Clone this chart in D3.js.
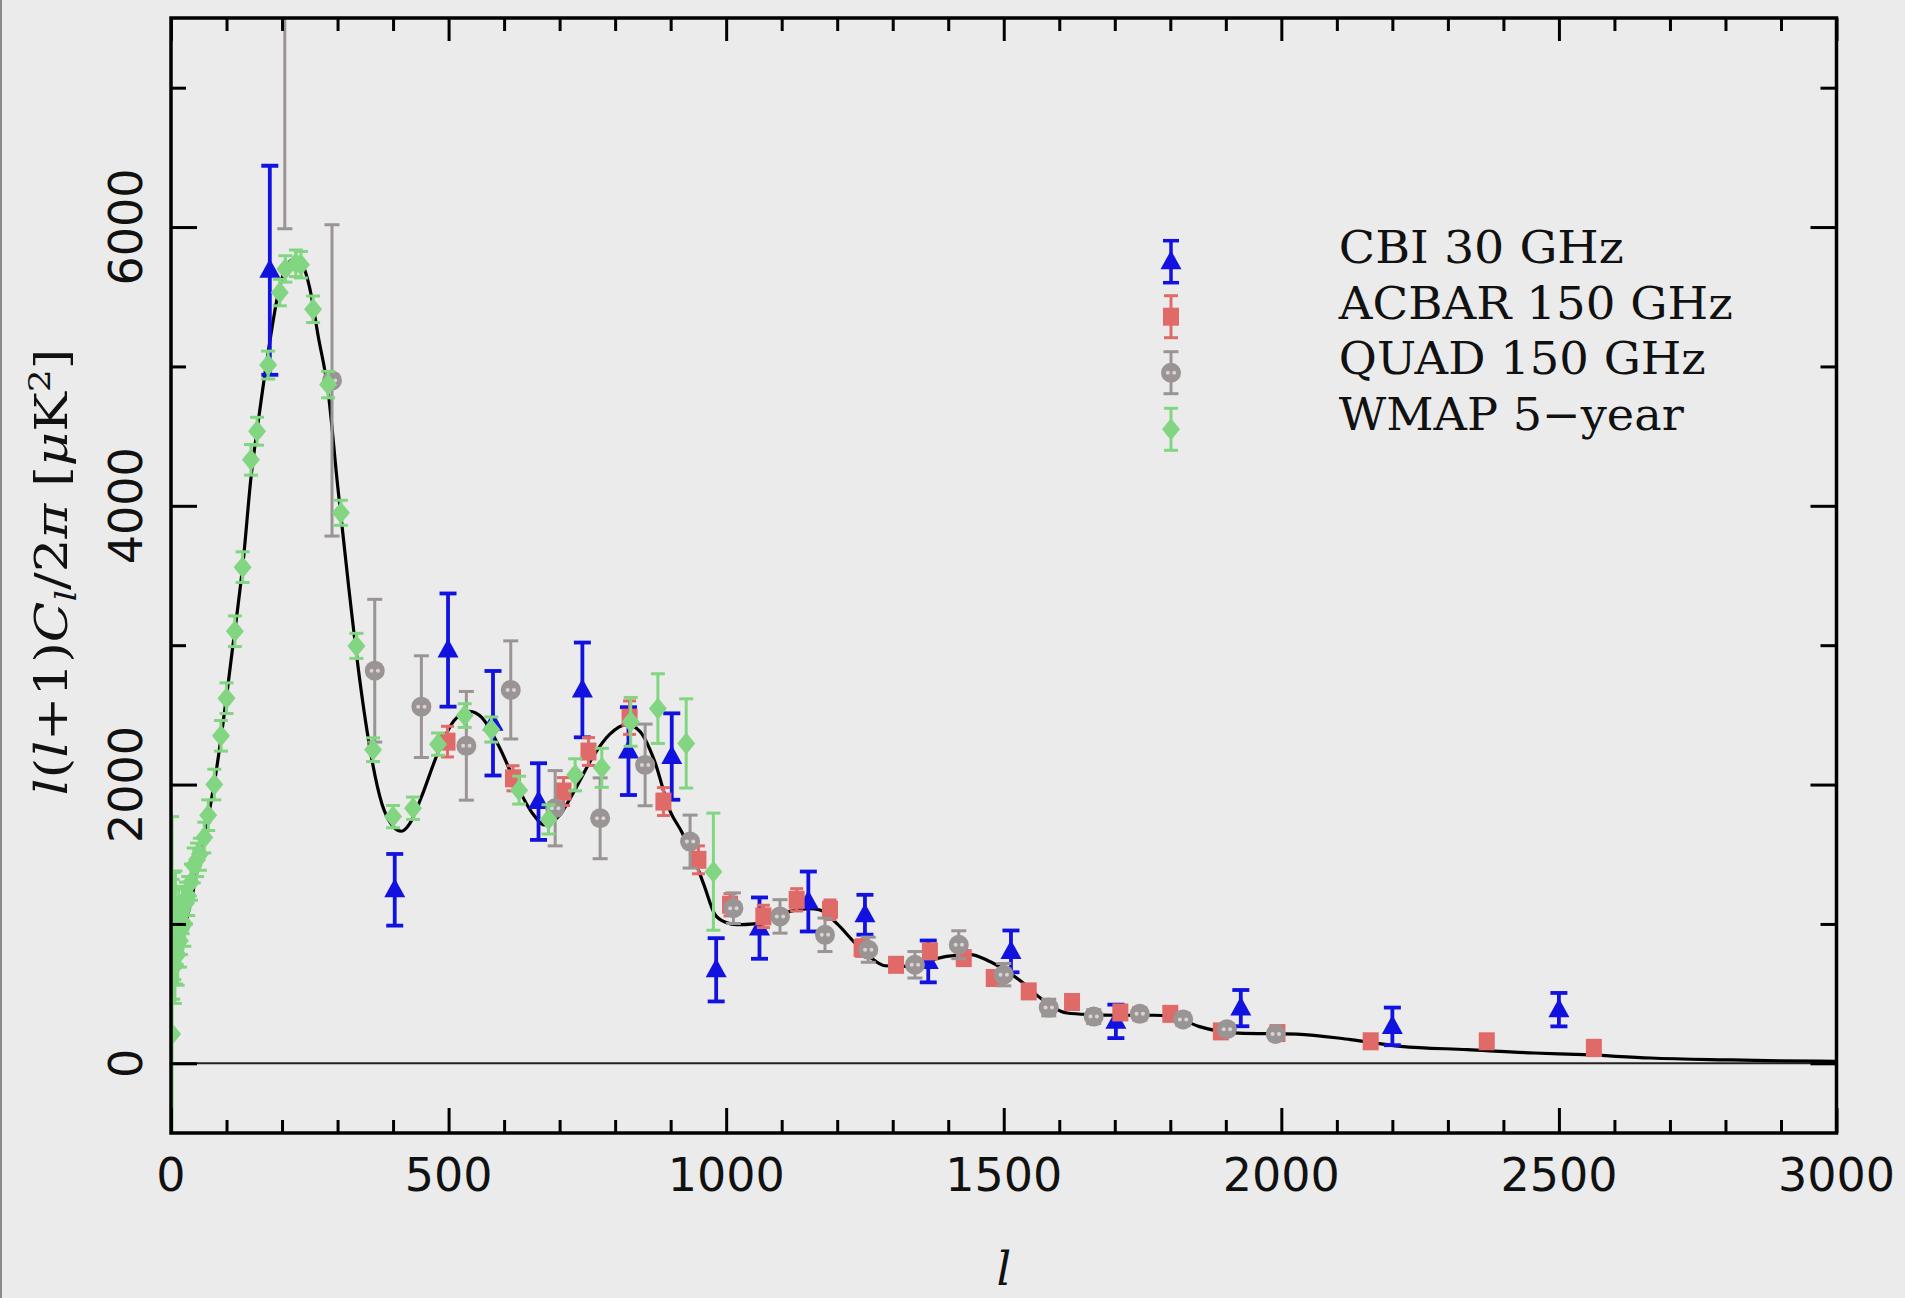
<!DOCTYPE html>
<html>
<head>
<meta charset="utf-8">
<script src="https://cdn.jsdelivr.net/npm/d3@7"></script>
<style>
  html, body { margin: 0; padding: 0; background: #ebebeb; }
  svg { display: block; }
</style>
</head>
<body>
<svg id="chart" width="1905" height="1298"></svg>
<script>
// ---- Best-fit model spectrum (multipole l, D_l in uK^2) ----
const theoryL = [2, 10, 20, 30, 40, 50, 60, 70, 80, 90, 100, 110, 120, 130, 144, 157, 175, 195, 210, 222,
  235, 250, 265, 283, 300, 320, 340, 360, 380, 400, 415, 430, 450, 480, 510, 538, 560, 590, 620, 650,
  674, 700, 730, 760, 790, 821, 845, 870, 899, 920, 941, 960, 980, 1000, 1019, 1050, 1080, 1115, 1150, 1169,
  1200, 1235, 1260, 1286, 1325, 1360, 1397, 1440, 1470, 1506, 1540, 1566, 1614, 1658, 1700, 1770, 1803, 1851, 1923, 2028,
  2125, 2215, 2335, 2455, 2545, 2665, 2800, 2900, 3000];
const theoryD = [1050, 880, 920, 1060, 1240, 1440, 1620, 1830, 2060, 2330, 2630, 2950, 3260, 3600, 4200, 4600, 5100, 5560, 5730, 5770,
  5740, 5560, 5220, 4820, 4150, 3420, 2750, 2220, 1860, 1700, 1665, 1720, 1900, 2220, 2460, 2525, 2480, 2280, 2020, 1800,
  1710, 1780, 1980, 2200, 2360, 2430, 2380, 2180, 1810, 1660, 1480, 1280, 1066, 1010, 994, 1000, 1040, 1090, 1110, 1100,
  1000, 851, 760, 700, 695, 730, 767, 780, 740, 660, 560, 468, 361, 349, 345, 345, 340, 265, 217, 210,
  170, 122, 98, 74, 62, 38, 25, 18, 14];

// ---- CBI 30 GHz ----
const cbiL   = [178, 403, 499, 580, 662, 741, 824, 902, 982, 1060, 1148, 1250, 1364, 1513, 1702, 1927, 2200, 2500];
const cbiD   = [5690, 1245, 2965, 2440, 1878, 2679, 2240, 2201, 671, 970, 1161, 1066, 731, 803, 301, 396, 265, 385];
const cbiErr = [750, 257, 406, 375, 275, 340, 315, 310, 227, 220, 215, 143, 150, 150, 120, 130, 135, 120];

// ---- ACBAR 150 GHz ----
const acbarL   = [498, 616, 707, 752, 826, 887, 950, 1007, 1067, 1127, 1187, 1244, 1306, 1367, 1428, 1482, 1545, 1623, 1710, 1800, 1891, 1993, 2161, 2370, 2563];
const acbarD   = [2308, 2045, 1950, 2237, 2480, 1878, 1460, 1138, 1054, 1173, 1102, 827, 707, 803, 755, 612, 516, 440, 365, 355, 229, 217, 158, 158, 110];
const acbarErr = [110, 90, 100, 100, 120, 100, 100, 80, 80, 80, 70, 60, 50, 50, 50, 45, 40, 40, 35, 35, 35, 35, 40, 45, 55];

// ---- QUaD 150 GHz ----
const quadL   = [205, 290, 367, 451, 532, 612, 692, 773, 854, 935, 1013, 1097, 1178, 1256, 1340, 1419, 1500, 1581, 1662, 1745, 1823, 1902, 1990];
const quadD   = [7700, 4900, 2817, 2559, 2278, 2679, 1830, 1758, 2141, 1591, 1113, 1054, 922, 815, 707, 851, 636, 400, 335, 355, 315, 245, 210];
const quadErr = [1712, 1117, 512, 365, 390, 352, 270, 290, 293, 190, 110, 120, 120, 90, 95, 100, 80, 60, 50, 45, 45, 40, 40];

// ---- WMAP 5-year ----
const wmapL = [2, 3, 4, 5, 6, 7, 8, 9, 10, 12, 14, 16, 18, 21, 24, 27, 31, 36, 41, 47,
  52, 60, 67, 78, 90, 100, 115, 129, 144, 155, 175, 196, 206, 225, 234, 256, 283, 306, 334, 364,
  400, 436, 481, 529, 577, 627, 680, 728, 776, 828, 877, 928, 977];
const wmapD = [210, 1000, 760, 1080, 880, 700, 1120, 820, 950, 780, 1050, 880, 960, 1100, 1000, 1150, 1200, 1300, 1420, 1460,
  1500, 1620, 1780, 2000, 2350, 2620, 3100, 3560, 4330, 4535, 5010, 5530, 5700, 5740, 5730, 5410, 4870, 3950, 2995, 2250,
  1770, 1830, 2290, 2495, 2395, 1960, 1750, 2070, 2120, 2450, 2545, 2295, 1375];
const wmapErr = [1560, 320, 300, 290, 280, 270, 260, 250, 240, 220, 200, 190, 180, 170, 160, 150, 140, 130, 125, 120,
  115, 110, 110, 110, 110, 110, 110, 110, 110, 100, 100, 95, 95, 95, 95, 95, 95, 90, 90, 85,
  80, 80, 80, 85, 90, 100, 105, 115, 140, 175, 250, 320, 420];

// ---- Axes and legend text ----
const xMajorTicks = [0, 500, 1000, 1500, 2000, 2500, 3000];
const xMinorTicks = d3.range(100, 3000, 100).filter(v => v % 500 !== 0);
const yMajorTicks = [0, 2000, 4000, 6000];
const yMinorTicks = [1000, 3000, 5000, 7000];
const legendLabels = ["CBI 30 GHz", "ACBAR 150 GHz", "QUAD 150 GHz", "WMAP 5\u2212year"];

// ---- Layout ----
const W = 1905, H = 1298;
const frame = { left: 171, right: 1836.5, top: 18, bottom: 1133 };
const x = d3.scaleLinear().domain([0, 3000]).range([frame.left, frame.right]);
const y = d3.scaleLinear().domain([-500, 7500]).range([frame.bottom, frame.top]);

const colors = { cbi: "#1212e0", acbar: "#e06a68", quad: "#9a9494", wmap: "#82d682" };

const svg = d3.select("#chart");
svg.append("rect").attr("width", W).attr("height", H).attr("fill", "#ebebeb");
svg.append("line").attr("x1", 1).attr("x2", 1).attr("y1", 0).attr("y2", H)
  .attr("stroke", "#8a8a8a").attr("stroke-width", 2);

svg.append("defs").append("clipPath").attr("id", "plotClip")
  .append("rect")
  .attr("x", frame.left).attr("y", frame.top)
  .attr("width", frame.right - frame.left).attr("height", frame.bottom - frame.top);

const plot = svg.append("g").attr("clip-path", "url(#plotClip)");

// zero level
plot.append("line")
  .attr("x1", x(0)).attr("x2", x(3000)).attr("y1", y(0)).attr("y2", y(0))
  .attr("stroke", "#222").attr("stroke-width", 2);

// model curve
const curve = d3.line().x(d => x(d[0])).y(d => y(d[1])).curve(d3.curveMonotoneX);
plot.append("path").datum(d3.zip(theoryL, theoryD))
  .attr("d", curve).attr("fill", "none").attr("stroke", "#000").attr("stroke-width", 3.2);

// marker shapes
const markers = {
  triangle: (g, c) => g.append("path").attr("d", "M0,-11.5L10.5,7.5L-10.5,7.5Z").attr("fill", c),
  square: (g, c) => g.append("rect").attr("x", -8).attr("y", -9).attr("width", 16).attr("height", 18).attr("fill", c),
  quad: (g, c) => {
    g.append("circle").attr("r", 10).attr("fill", c);
    g.append("circle").attr("cx", -3.2).attr("r", 2).attr("fill", "#d8d4d4");
    g.append("circle").attr("cx", 3.2).attr("r", 2).attr("fill", "#d8d4d4");
  },
  diamond: (g, c) => g.append("path").attr("d", "M0,-11L9,0L0,11L-9,0Z").attr("fill", c)
};

function drawSeries(parent, L, D, E, color, shape, lw, capW) {
  const rows = d3.zip(L, D, E);
  const g = parent.append("g");
  const pts = g.selectAll("g").data(rows).join("g");
  pts.append("line")
    .attr("x1", d => x(d[0])).attr("x2", d => x(d[0]))
    .attr("y1", d => y(d[1] - d[2])).attr("y2", d => y(d[1] + d[2]))
    .attr("stroke", color).attr("stroke-width", lw);
  [-1, 1].forEach(s => {
    pts.append("line")
      .attr("x1", d => x(d[0]) - capW / 2).attr("x2", d => x(d[0]) + capW / 2)
      .attr("y1", d => y(d[1] + s * d[2])).attr("y2", d => y(d[1] + s * d[2]))
      .attr("stroke", color).attr("stroke-width", lw);
  });
  pts.each(function (d) {
    const m = d3.select(this).append("g").attr("transform", `translate(${x(d[0])},${y(d[1])})`);
    markers[shape](m, color);
  });
}

drawSeries(plot, cbiL, cbiD, cbiErr, colors.cbi, "triangle", 3.8, 17);
drawSeries(plot, acbarL, acbarD, acbarErr, colors.acbar, "square", 3, 13);
drawSeries(plot, quadL, quadD, quadErr, colors.quad, "quad", 3, 15);
drawSeries(plot, wmapL, wmapD, wmapErr, colors.wmap, "diamond", 3, 14);

// ---- Axes (ticks point inward on all four sides) ----
function styleAxis(g) {
  g.select(".domain").remove();
  g.selectAll(".tick line").attr("stroke", "#000").attr("stroke-width", 3);
  g.selectAll(".tick text").remove();
}
svg.append("g").attr("transform", `translate(0,${frame.bottom})`)
  .call(d3.axisBottom(x).tickValues(xMajorTicks).tickSize(-25)).call(styleAxis);
svg.append("g").attr("transform", `translate(0,${frame.bottom})`)
  .call(d3.axisBottom(x).tickValues(xMinorTicks).tickSize(-13)).call(styleAxis);
svg.append("g").attr("transform", `translate(0,${frame.top})`)
  .call(d3.axisTop(x).tickValues(xMajorTicks).tickSize(-23)).call(styleAxis);
svg.append("g").attr("transform", `translate(0,${frame.top})`)
  .call(d3.axisTop(x).tickValues(xMinorTicks).tickSize(-13)).call(styleAxis);
svg.append("g").attr("transform", `translate(${frame.left},0)`)
  .call(d3.axisLeft(y).tickValues(yMajorTicks).tickSize(-26)).call(styleAxis);
svg.append("g").attr("transform", `translate(${frame.left},0)`)
  .call(d3.axisLeft(y).tickValues(yMinorTicks).tickSize(-15)).call(styleAxis);
svg.append("g").attr("transform", `translate(${frame.right},0)`)
  .call(d3.axisRight(y).tickValues(yMajorTicks).tickSize(-26)).call(styleAxis);
svg.append("g").attr("transform", `translate(${frame.right},0)`)
  .call(d3.axisRight(y).tickValues(yMinorTicks).tickSize(-16)).call(styleAxis);

svg.append("rect")
  .attr("x", frame.left).attr("y", frame.top)
  .attr("width", frame.right - frame.left).attr("height", frame.bottom - frame.top)
  .attr("fill", "none").attr("stroke", "#000").attr("stroke-width", 3.5);

// tick labels
const tickFont = "'DejaVu Sans', sans-serif";
svg.append("g").selectAll("text").data(xMajorTicks).join("text")
  .attr("x", d => x(d)).attr("y", 1191)
  .attr("text-anchor", "middle").attr("font-family", tickFont).attr("font-size", 46)
  .attr("fill", "#111").text(d => d);
svg.append("g").selectAll("text").data(yMajorTicks).join("text")
  .attr("transform", d => `translate(142,${y(d)}) rotate(-90)`)
  .attr("text-anchor", "middle").attr("font-family", tickFont).attr("font-size", 46)
  .attr("fill", "#111").text(d => d);

// axis titles
const serif = "'DejaVu Serif', 'Liberation Serif', serif";
svg.append("text")
  .attr("x", (frame.left + frame.right) / 2).attr("y", 1285)
  .attr("text-anchor", "middle").attr("font-family", serif).attr("font-size", 46)
  .attr("font-style", "italic").attr("fill", "#111").text("l");

const yTitle = svg.append("text")
  .attr("transform", `translate(67,572) rotate(-90)`)
  .attr("text-anchor", "middle").attr("font-family", serif).attr("font-size", 44)
  .attr("fill", "#111").attr("textLength", 447).attr("lengthAdjust", "spacingAndGlyphs");
yTitle.append("tspan").attr("font-style", "italic").text("l");
yTitle.append("tspan").text("(");
yTitle.append("tspan").attr("font-style", "italic").text("l");
yTitle.append("tspan").text("+1)");
yTitle.append("tspan").attr("font-style", "italic").text("C");
yTitle.append("tspan").attr("font-style", "italic").attr("font-size", 30).attr("dy", 9).text("l");
yTitle.append("tspan").attr("dy", -9).text("/2");
yTitle.append("tspan").attr("font-style", "italic").text("\u03c0");
yTitle.append("tspan").text(" [");
yTitle.append("tspan").attr("font-style", "italic").text("\u03bc");
yTitle.append("tspan").text("K");
yTitle.append("tspan").attr("font-size", 30).attr("dy", -17).text("2");
yTitle.append("tspan").attr("dy", 17).text("]");

// ---- Legend ----
const legendX = 1171;
const legendRows = [
  { y: 261.7, color: colors.cbi, shape: "triangle", lw: 3.5, cap: 16, base: 263, len: 285 },
  { y: 316.7, color: colors.acbar, shape: "square", lw: 3, cap: 14, base: 318.5, len: 394 },
  { y: 372.7, color: colors.quad, shape: "quad", lw: 3, cap: 15, base: 373.5, len: 367 },
  { y: 429.3, color: colors.wmap, shape: "diamond", lw: 3, cap: 14, base: 429.5, len: 345 }
];
const leg = svg.append("g");
legendRows.forEach((r, i) => {
  const g = leg.append("g");
  g.append("line").attr("x1", legendX).attr("x2", legendX)
    .attr("y1", r.y - 21).attr("y2", r.y + 21).attr("stroke", r.color).attr("stroke-width", r.lw);
  [-21, 21].forEach(o => g.append("line")
    .attr("x1", legendX - r.cap / 2).attr("x2", legendX + r.cap / 2)
    .attr("y1", r.y + o).attr("y2", r.y + o).attr("stroke", r.color).attr("stroke-width", r.lw));
  markers[r.shape](g.append("g").attr("transform", `translate(${legendX},${r.y})`), r.color);
  g.append("text").attr("x", 1338.8).attr("y", r.base)
    .attr("font-family", serif).attr("font-size", 44).attr("fill", "#111")
    .attr("textLength", r.len).attr("lengthAdjust", "spacingAndGlyphs")
    .text(legendLabels[i]);
});
</script>
</body>
</html>
